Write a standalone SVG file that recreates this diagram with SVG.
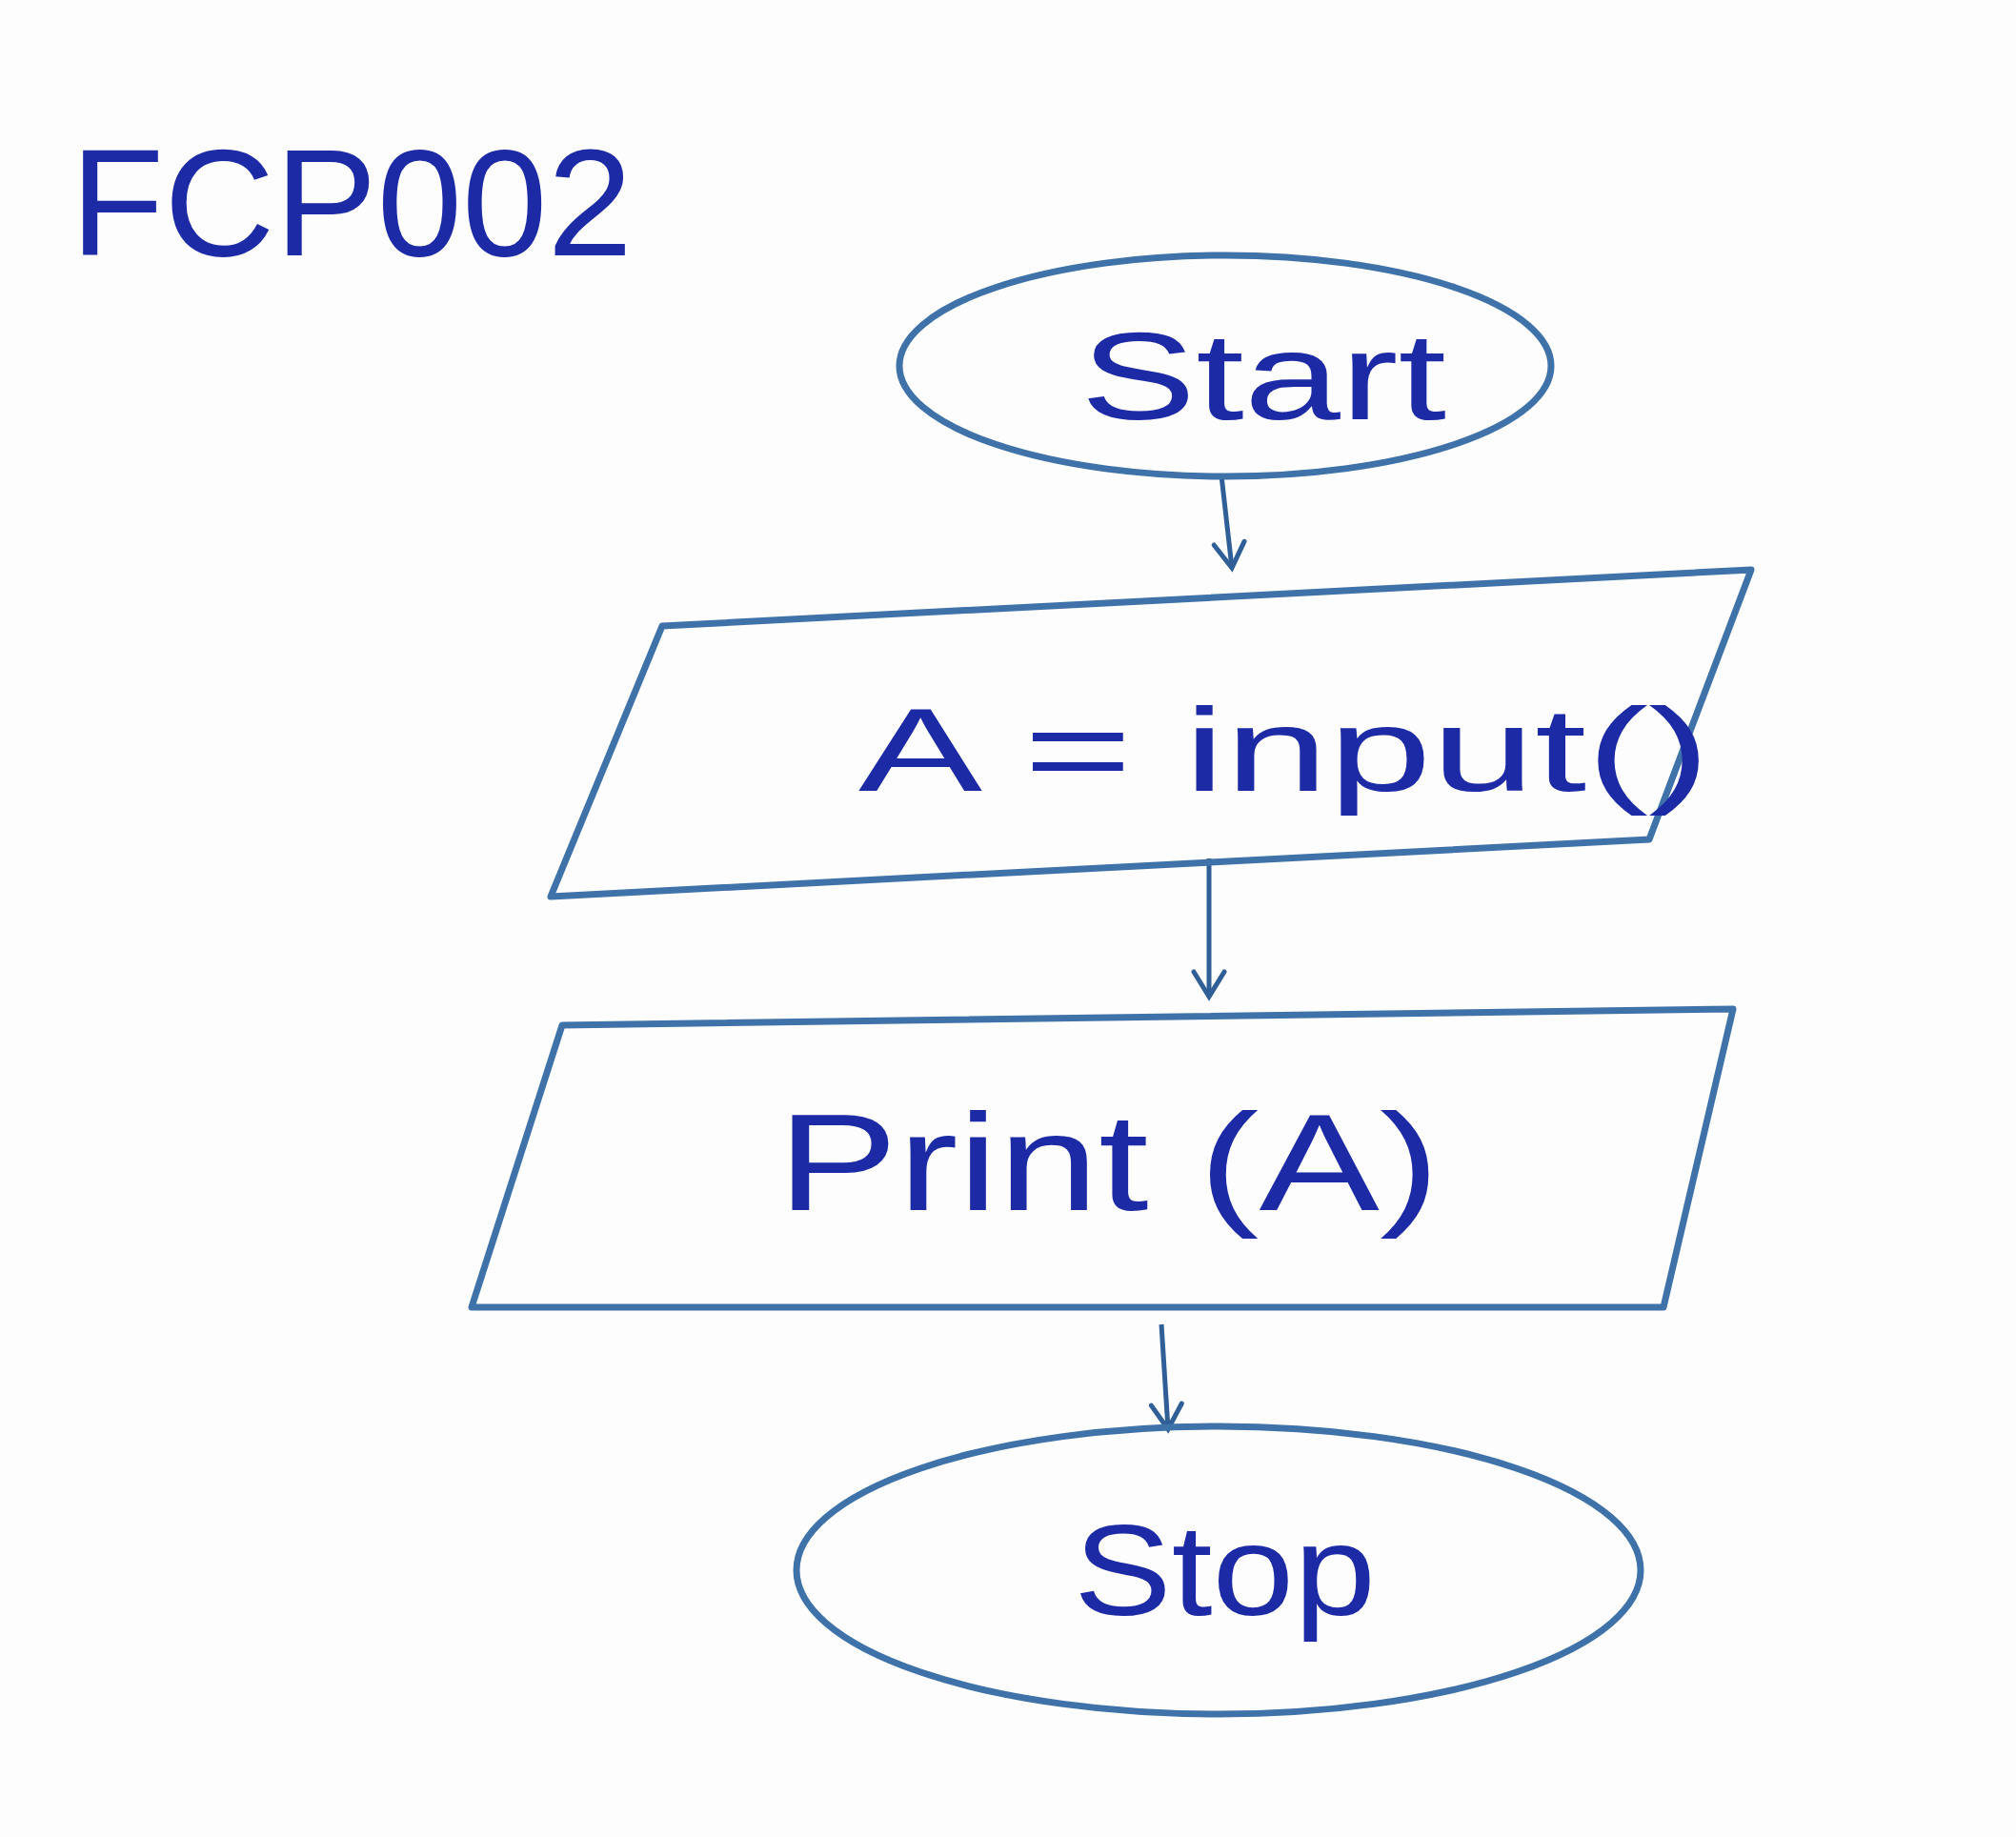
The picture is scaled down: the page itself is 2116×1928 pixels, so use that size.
<svg xmlns="http://www.w3.org/2000/svg" width="2116" height="1928" viewBox="0 0 2116 1928">
<style>
.shape{fill:none;stroke:#3f72a8;stroke-width:7;stroke-linejoin:round}
.lbl{font-family:"Liberation Sans",Arial,sans-serif;fill:#1c2aa6}
.conn{fill:none;stroke:#2f5f96;stroke-width:5}
</style>
<defs>
<marker id="arrow" viewBox="0 0 40 40" refX="34" refY="20" markerWidth="40" markerHeight="40" orient="auto" markerUnits="userSpaceOnUse">
<path d="M8,4 L34,20 L8,36" fill="none" stroke="#2f5f96" stroke-width="5" stroke-linecap="round"/>
</marker>
</defs>
<rect width="2116" height="1928" fill="#fdfdfd"/>
<text class="lbl" x="74" y="268" font-size="160" textLength="590" lengthAdjust="spacingAndGlyphs">FCP002</text>
<g id="connectors">
<line class="conn" x1="1282" y1="499" x2="1293" y2="596" marker-end="url(#arrow)"/>
<line class="conn" x1="1269" y1="901" x2="1269" y2="1046" marker-end="url(#arrow)"/>
<line class="conn" x1="1219" y1="1390" x2="1226" y2="1500" marker-end="url(#arrow)"/>
</g>
<g id="start">
<ellipse class="shape" cx="1286" cy="384" rx="342" ry="116"/>
<text class="lbl" x="1134" y="440" font-size="130" textLength="384" lengthAdjust="spacingAndGlyphs">Start</text>
</g>
<g id="input">
<polygon class="shape" points="695,657 1838,598 1731,881 578,941"/>
<text class="lbl" x="901" y="830" font-size="125" textLength="894" lengthAdjust="spacingAndGlyphs">A = input()</text>
</g>
<g id="print">
<polygon class="shape" points="590,1076 1819,1059 1746,1372 495,1372"/>
<text class="lbl" x="816" y="1270" font-size="145" textLength="695" lengthAdjust="spacingAndGlyphs">Print (A)</text>
</g>
<g id="stop">
<ellipse class="shape" cx="1279" cy="1648" rx="443" ry="151"/>
<text class="lbl" x="1127" y="1695" font-size="135" textLength="317" lengthAdjust="spacingAndGlyphs">Stop</text>
</g>
</svg>
